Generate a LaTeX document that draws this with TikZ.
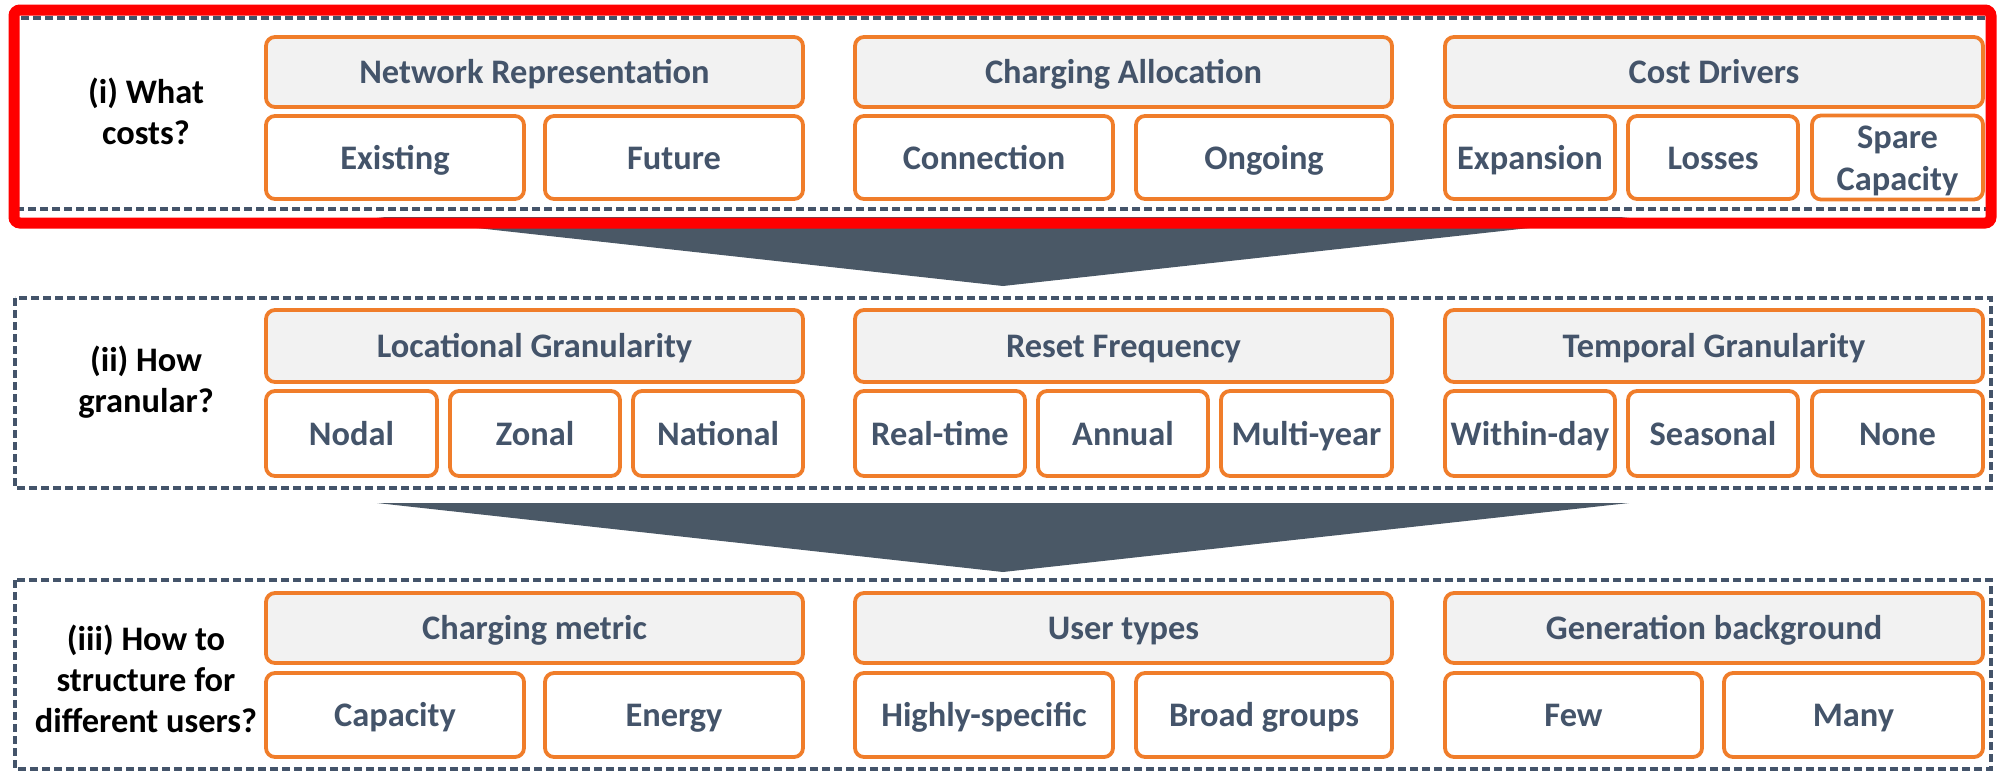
\documentclass[tikz,border=0pt]{standalone}
\usepackage{fontspec}
\setmainfont{Carlito}
\definecolor{slate}{HTML}{44546A}
\definecolor{arrowc}{HTML}{4A5866}
\definecolor{orng}{HTML}{F07D2A}
\definecolor{hdrfill}{HTML}{F2F2F2}
\newcommand\cell[7]{\node[#1, minimum width={(#5-#3)*0.5pt}, minimum height={(#6-#4)*0.5pt}] (#2) at ({(#3+#5)/2},{(#4+#6)/2}) {#7};}
\begin{document}
\begin{tikzpicture}[x=0.5pt,y=-0.5pt,
  boxcore/.style={draw=orng, line width=1.9pt, rounded corners=4.5pt, inner sep=0pt, align=center,
    text=slate, font=\fontsize{17.2pt}{21pt}\selectfont\bfseries},
  boxbase/.style={boxcore, text height=14.4pt, text depth=2.6pt},
  hdr/.style={boxbase, fill=hdrfill},
  opt/.style={boxbase, fill=white},
  opttwo/.style={boxcore, fill=white},
  grp/.style={draw=slate, line width=1.9pt, dash pattern=on 4pt off 2pt},
  qlabel/.style={align=center, text=black, font=\fontsize{17.2pt}{20.5pt}\selectfont\bfseries},
  chev/.style={fill=arrowc, draw=none}]
\useasboundingbox (0,0) rectangle (1997,772);
\fill[white] (0,0) rectangle (1997,772);
% arrows
\fill[chev] (377,217) -- (1629,217) -- (1003,286) -- cycle;
\fill[chev] (377,503) -- (1629,503) -- (1003,572) -- cycle;
% group boxes
\draw[grp] (15,18) rectangle (1991,209);
\draw[grp] (15,298) rectangle (1991,488);
\draw[grp] (15,580) rectangle (1991,769);
% row 1
\node[qlabel] (q1) at (146,111) {(i) What\\costs?};
\cell{hdr}{nr}{266}{37}{803}{107}{Network Representation}
\cell{hdr}{ca}{855}{37}{1392}{107}{Charging Allocation}
\cell{hdr}{cd}{1445}{37}{1983}{107}{Cost Drivers}
\cell{opt}{ex}{266}{116}{524}{199}{Existing}
\cell{opt}{fu}{545}{116}{803}{199}{Future}
\cell{opt}{co}{855}{116}{1113}{199}{Connection}
\cell{opt}{on}{1136}{116}{1392}{199}{Ongoing}
\cell{opt}{ep}{1445}{116}{1615}{199}{Expansion}
\cell{opt}{lo}{1628}{116}{1798}{199}{Losses}
\cell{opttwo}{sc}{1812}{116}{1983}{199}{\raisebox{-2pt}[\height][\depth]{\begin{tabular}{@{}c@{}}Spare\\Capacity\end{tabular}}}
% row 2
\node[qlabel] (q2) at (146,382) {(ii) How\\granular?};
\cell{hdr}{lg}{266}{310}{803}{382}{Locational Granularity}
\cell{hdr}{rf}{855}{310}{1392}{382}{Reset Frequency}
\cell{hdr}{tg}{1445}{310}{1983}{382}{Temporal Granularity}
\cell{opt}{nd}{266}{391}{437}{476}{Nodal}
\cell{opt}{zn}{450}{391}{620}{476}{Zonal}
\cell{opt}{nt}{633}{391}{803}{476}{National}
\cell{opt}{rt}{855}{391}{1025}{476}{Real-time}
\cell{opt}{an}{1038}{391}{1208}{476}{Annual}
\cell{opt}{my}{1221}{391}{1392}{476}{Multi-year}
\cell{opt}{wd}{1445}{391}{1615}{476}{Within-day}
\cell{opt}{se}{1628}{391}{1798}{476}{Seasonal}
\cell{opt}{no}{1812}{391}{1983}{476}{None}
% row 3
\node[qlabel] (q3) at (146,679) {(iii) How to\\structure for\\different users?};
\cell{hdr}{cm}{266}{593}{803}{663}{Charging metric}
\cell{hdr}{ut}{855}{593}{1392}{663}{User types}
\cell{hdr}{gb}{1445}{593}{1983}{663}{Generation background}
\cell{opt}{cp}{266}{673}{524}{757}{Capacity}
\cell{opt}{en}{545}{673}{803}{757}{Energy}
\cell{opt}{hs}{855}{673}{1113}{757}{Highly-specific}
\cell{opt}{bg}{1136}{673}{1392}{757}{Broad groups}
\cell{opt}{fw}{1445}{673}{1702}{757}{Few}
\cell{opt}{mn}{1724}{673}{1983}{757}{Many}
% highlight
\draw[red, line width=5.5pt, rounded corners=3pt] (14,10) rectangle (1991,223);
\end{tikzpicture}
\end{document}
